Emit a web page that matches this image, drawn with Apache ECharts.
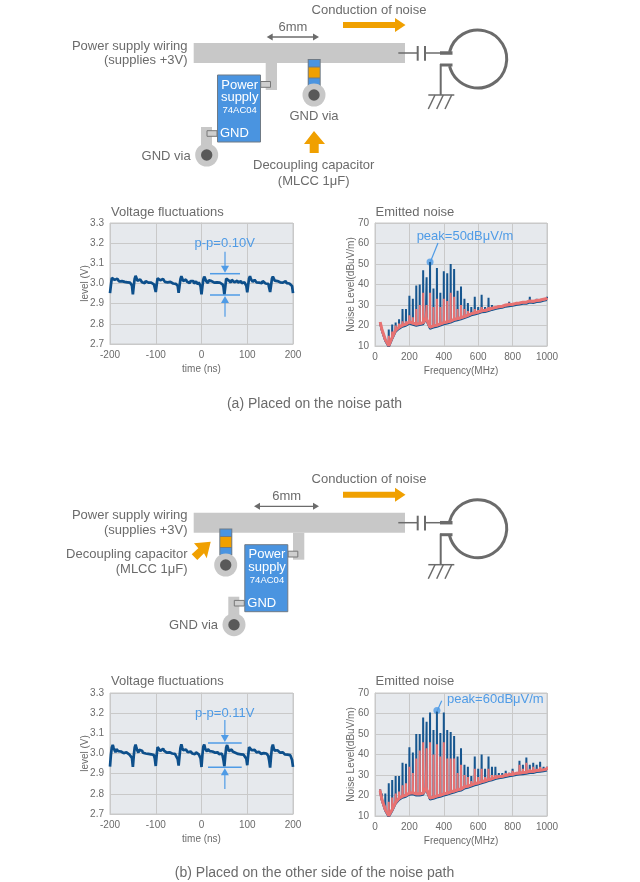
<!DOCTYPE html>
<html>
<head>
<meta charset="utf-8">
<title>Decoupling capacitor placement</title>
<style>
html, body { margin: 0; padding: 0; background: #fff; }
#chart { width: 640px; height: 882px; }
</style>
<script src="https://cdn.jsdelivr.net/npm/echarts@6/dist/echarts.min.js"></script>
</head>
<body>
<div id="chart"></div>
<script>
// voltage waveform, one sample every 2 ns from -200 to 200
var timeTicks = [-200, -100, 0, 100, 200];
var levelTicks = [2.7, 2.8, 2.9, 3.0, 3.1, 3.2, 3.3];
var levelA = [
  2.952,2.992,3.028,3.036,3.030,3.018,3.012,3.020,3.024,3.016,3.010,3.014,3.006,3.012,3.004,3.012,3.008,3.002,3.012,3.006,3.000,3.010,3.004,2.998,2.990,
  2.946,2.990,3.024,3.038,3.026,3.014,3.008,3.018,3.020,3.012,3.006,3.012,3.008,3.002,3.012,3.006,3.012,3.004,3.000,3.010,3.004,2.998,3.004,2.996,2.988,
  2.958,2.994,3.026,3.034,3.024,3.016,3.010,3.016,3.022,3.014,3.008,3.004,3.012,3.006,3.012,3.002,3.008,3.012,3.004,3.000,3.008,3.002,2.998,3.000,2.988,
  2.954,2.988,3.022,3.036,3.028,3.012,3.006,3.014,3.020,3.010,3.012,3.006,3.002,3.012,3.008,3.004,3.012,3.000,3.006,3.010,3.002,2.996,3.006,2.996,2.986,
  2.946,2.986,3.020,3.034,3.024,3.012,3.006,3.002,3.016,3.014,3.008,3.012,3.006,3.012,3.004,3.008,3.012,3.006,3.002,3.010,3.004,3.000,3.002,2.996,2.984,
  2.945,2.984,3.024,3.032,3.026,3.014,3.010,3.004,3.018,3.016,3.010,3.006,3.012,3.008,3.014,3.004,3.010,3.006,3.012,3.002,3.008,3.000,3.006,2.998,2.988,
  2.956,2.992,3.026,3.036,3.022,3.016,3.008,3.014,3.018,3.012,3.006,3.010,3.014,3.004,3.012,3.008,3.002,3.012,3.006,3.012,3.000,3.006,2.998,2.998,2.990,
  2.958,2.990,3.024,3.034,3.028,3.014,3.010,3.016,3.012,3.008,3.014,3.006,3.012,3.012,3.004,3.010,3.006,3.012,3.002,3.010,3.006,3.000,3.006,2.998,2.988,
  2.952
];
var levelB = [
  2.935,2.994,3.030,3.042,3.028,3.016,3.006,3.022,3.020,3.012,3.016,3.006,3.010,3.004,3.008,3.002,3.006,3.000,3.006,2.998,3.002,2.996,3.002,2.994,2.978,
  2.934,2.990,3.030,3.044,3.026,3.014,3.004,3.018,3.022,3.010,3.014,3.004,3.010,3.006,3.000,3.008,3.004,2.998,3.006,3.000,2.996,3.002,2.996,2.992,2.974,
  2.938,2.992,3.032,3.040,3.030,3.012,3.006,3.020,3.024,3.014,3.008,3.012,3.004,3.008,3.002,3.006,2.998,3.004,3.000,2.996,3.004,2.998,2.994,2.990,2.972,
  2.940,2.988,3.028,3.046,3.028,3.016,3.008,3.016,3.020,3.012,3.006,3.014,3.002,3.010,3.006,3.000,3.006,3.002,2.996,3.006,2.998,3.000,2.996,2.992,2.976,
  2.933,2.994,3.034,3.044,3.024,3.018,3.010,3.022,3.018,3.012,3.016,3.004,3.010,3.002,3.008,3.004,2.998,3.002,3.006,2.996,3.002,2.994,3.000,2.990,2.968,
  2.936,2.988,3.030,3.042,3.026,3.012,3.006,3.018,3.020,3.010,3.006,3.012,3.004,3.008,3.002,2.998,3.006,3.000,2.996,3.004,2.998,2.994,2.998,2.988,2.974,
  2.942,2.990,3.032,3.040,3.028,3.016,3.008,3.020,3.018,3.014,3.006,3.010,3.002,3.008,3.004,2.998,3.004,2.996,3.002,2.998,2.994,3.000,2.994,2.988,2.964,
  2.930,2.986,3.030,3.044,3.024,3.014,3.006,3.022,3.016,3.010,3.012,3.004,3.008,3.002,3.006,3.000,2.996,3.002,2.998,2.994,3.000,2.996,2.992,2.986,2.968,
  2.934
];

// spectrum: harmonics every 20 MHz, 296 is the spot just before the step in the floor
var freqTicks = [0, 200, 400, 600, 800, 1000];
var noiseTicks = [10, 20, 30, 40, 50, 60, 70];
var harmonicsMHz = [30,40,60,80,100,120,140,160,180,200,220,240,260,280,296,300,320,340,360,380,400,420,440,460,480,500,520,540,560,580,600,620,640,660,680,700,720,740,760,780,800,820,840,860,880,900,920,940,960,980,1000];
var floorA = [21.5,18,13,10,14,17.5,19,20,20.5,21.5,21,20.5,20.8,21.2,23.5,23,19,19.6,20,20.6,21.2,21.6,22,22.8,23.2,23.6,24.2,24.8,25.6,26,26.4,27,27.2,27.6,28.2,28.6,29,29.2,29.8,30,30.2,30.6,30.8,31.2,31.2,31.8,31.6,32,32.2,32.6,33];
var peakBlueA = [21.5,18,13,18,20.5,21.5,23,28,28,34.5,33,39.5,40,47,23.5,43.5,51,38,48,36,46.5,45.5,50,47.5,37,39,33,31,29,34,29,35,29,33.5,30,29.5,30,30,30.5,31.5,31,31.5,31.5,32,32,34,32.5,33,33,33,34];
var peakPinkA = [22,18.5,13.5,15,17,20,21,22,22,25,24,28,30,36,24,30,36,29,33,29,33,32,36,34,28,30,28,27,26.5,28,27.5,29,28,29,29,29,30,30,30,31,31,31.5,31.5,32,32,32.5,32.5,32.5,33,33,33.5];
var floorB = [22,18,13,10,13,16.5,18.5,19.5,20,21,21.2,20.6,20.6,21,23.5,23,18.6,19,19.6,20,20.6,21,21.6,22,22.6,23,24,24.4,25,25.6,26,26.6,27,27.6,28,28.6,29,29.2,29.6,30,30.2,30.6,30.8,31,31.2,31.6,31.6,32,32.2,32.4,32.8];
var peakBlueB = [23,21,21,26,27.5,29.5,29.5,36,35.5,43.5,41,50,50,58,23.5,56,60.5,52,61,50.5,60.5,52,51,49,39,43,35,34,29.5,39,33,40,33,39,34,34,31,31,32,31,33,31.5,37,35,38.5,35,36,35,36.5,34,34];
var peakPinkB = [23,18.5,15,17,19,21,22,25,26,34,31,38,42,46,24,43,46,40,45,39,46,38,38,38,31,35,30,29,27,33,29,33,29,33,30,30,30,30,31,31,32,31,35,33,36,33,34,33,34,33,34];
var peakMarkA = [[320, 51]];
var peakMarkB = [[360, 61.5]];

var font = '"Liberation Sans", Arial, sans-serif';
var gray = '#6b6b6b';
var lightBlue = '#4f9be6';
var orange = '#f0a000';
var wire = '#c8c8c8';

function timeSeries(values) {
  return values.map(function (v, i) { return [-200 + i * 2, v]; });
}

function spikes(freqs, floor, peak) {
  var pts = [];
  freqs.forEach(function (f, i) {
    pts.push([f - 1, floor[i]]);
    pts.push([f, peak[i]]);
    pts.push([f + 1, floor[i]]);
  });
  return pts;
}

function floorLine(freqs, floor, offset) {
  return freqs.map(function (f, i) { return [f, floor[i] + offset]; });
}

function grid(left, top, right, bottom) {
  return {
    left: left, top: top, width: right - left, height: bottom - top,
    show: true, backgroundColor: '#e6e9ed', borderColor: '#c9c9c9', borderWidth: 1
  };
}

function axis(idx, name, min, max, interval, gap, fmt) {
  return {
    gridIndex: idx, type: 'value', min: min, max: max, interval: interval,
    name: name, nameLocation: 'middle', nameGap: gap, nameMoveOverlap: false,
    nameTextStyle: { color: gray, fontSize: 10, fontFamily: font },
    axisLine: { show: true, lineStyle: { color: '#c9c9c9', width: 1 } },
    axisTick: { show: false },
    axisLabel: { color: gray, fontSize: 10, fontFamily: font, margin: 6, formatter: fmt || String, hideOverlap: false, showMinLabel: true, showMaxLabel: true },
    splitLine: { show: true, lineStyle: { color: '#c9c9c9', width: 1 } }
  };
}

function t(x, y, s, align, size, color) {
  return {
    type: 'text', silent: true, z: 10,
    style: { x: x, y: y, text: s, align: align || 'center', verticalAlign: 'middle', fill: color || gray, fontSize: size || 13, fontFamily: font }
  };
}
function rect(x1, y1, x2, y2, fill, stroke, lw) {
  return { type: 'rect', silent: true, z: 10, shape: { x: x1, y: y1, width: x2 - x1, height: y2 - y1 }, style: { fill: fill, stroke: stroke || null, lineWidth: lw || 0 } };
}
function line(x1, y1, x2, y2, color, lw) {
  return { type: 'line', silent: true, z: 10, shape: { x1: x1, y1: y1, x2: x2, y2: y2 }, style: { stroke: color || gray, lineWidth: lw || 1.5 } };
}
function poly(pts, fill) {
  return { type: 'polygon', silent: true, z: 10, shape: { points: pts }, style: { fill: fill } };
}
function circle(x, y, r, fill) {
  return { type: 'circle', silent: true, z: 10, shape: { cx: x, cy: y, r: r }, style: { fill: fill } };
}

function via(x, y) {
  return [circle(x, y, 11.5, wire), circle(x, y, 5.7, '#595959')];
}

function capacitor(x, y) {
  return [
    rect(x, y, x + 13, y + 27, '#6f7a85'),
    rect(x + 1, y + 1, x + 12, y + 7.5, '#4a94e0'),
    rect(x + 1, y + 8.5, x + 12, y + 18.5, orange),
    rect(x + 1, y + 19.5, x + 12, y + 26, '#4a94e0')
  ];
}

// everything in panel (b) sits the same way, only the ic and the capacitor move
function diagram(dy, icDx) {
  var els = [];
  els.push(t(369, 10 + dy, 'Conduction of noise'));
  els.push(poly([[343, 22 + dy], [395, 22 + dy], [395, 18 + dy], [405.5, 25 + dy], [395, 32 + dy], [395, 28 + dy], [343, 28 + dy]], orange));
  els.push(t(187.5, 46 + dy, 'Power supply wiring', 'right'));
  els.push(t(187.5, 60.7 + dy, '(supplies +3V)', 'right'));
  els.push(rect(193.7, 43 + dy, 405, 63 + dy, wire));
  // stub and ic
  els.push(rect(265.7 + icDx, 63 + dy, 277 + icDx, 90 + dy, wire));
  els.push(rect(201 + icDx, 127 + dy, 212 + icDx, 152 + dy, wire));
  els.push(rect(207 + icDx, 130.7 + dy, 217 + icDx, 136.3 + dy, '#cfcfcf', '#777', 1));
  els.push(rect(260.7 + icDx, 81.5 + dy, 270.5 + icDx, 87.3 + dy, '#cfcfcf', '#777', 1));
  els.push(rect(217.5 + icDx, 75 + dy, 260.5 + icDx, 142 + dy, '#4a94e0', '#6f7a85', 1));
  els.push(t(239.7 + icDx, 85 + dy, 'Power', 'center', 13, '#fff'));
  els.push(t(239.7 + icDx, 97.5 + dy, 'supply', 'center', 13, '#fff'));
  els.push(t(239.7 + icDx, 110.7 + dy, '74AC04', 'center', 9.5, '#fff'));
  els.push(t(220 + icDx, 133.5 + dy, 'GND', 'left', 13, '#fff'));
  els = els.concat(via(206.7 + icDx, 155 + dy));
  els.push(t(190.7 + icDx, 156 + dy, 'GND via', 'right'));
  // loop antenna
  els.push(line(398.3, 53 + dy, 417.7, 53 + dy));
  els.push(line(417.7, 46 + dy, 417.7, 60.7 + dy, gray, 2));
  els.push(line(425, 46 + dy, 425, 60.7 + dy, gray, 2));
  els.push(line(425, 53 + dy, 440, 53 + dy));
  els.push(line(440, 53 + dy, 452.5, 53 + dy, gray, 3.5));
  els.push(line(440, 65 + dy, 452.5, 65 + dy, gray, 3));
  els.push(line(440.7, 64 + dy, 440.7, 95 + dy, gray, 2));
  els.push({ type: 'arc', silent: true, z: 10, shape: { cx: 477.7, cy: 59 + dy, r: 29, startAngle: Math.PI + 0.245, endAngle: 3 * Math.PI - 0.245, clockwise: true }, style: { stroke: gray, lineWidth: 3, fill: null } });
  els.push(line(428.3, 95 + dy, 454.3, 95 + dy));
  els.push(line(435, 95 + dy, 428.3, 109 + dy));
  els.push(line(443.3, 95 + dy, 436.7, 109 + dy));
  els.push(line(451.7, 95 + dy, 445, 109 + dy));
  return els;
}

function sizeArrow(x1, x2, y) {
  return [
    line(x1 + 3, y, x2 - 3, y, gray, 1.3),
    poly([[x1, y], [x1 + 6, y - 3.5], [x1 + 6, y + 3.5]], gray),
    poly([[x2, y], [x2 - 6, y - 3.5], [x2 - 6, y + 3.5]], gray)
  ];
}

function ppMark(x1, x2, y1, y2, from1, from2) {
  var mid = (x1 + x2) / 2;
  return [
    line(x1, y1, x2, y1, lightBlue, 1.5),
    line(x1, y2, x2, y2, lightBlue, 1.5),
    line(mid, from1, mid, y1 - 5, lightBlue, 1.2),
    line(mid, from2, mid, y2 + 5, lightBlue, 1.2),
    poly([[mid, y1 - 1], [mid - 4, y1 - 8], [mid + 4, y1 - 8]], lightBlue),
    poly([[mid, y2 + 1], [mid - 4, y2 + 8], [mid + 4, y2 + 8]], lightBlue)
  ];
}

var graphics = [];
graphics = graphics.concat(diagram(0, 0));
graphics = graphics.concat(capacitor(307.7, 59));
graphics = graphics.concat(via(314, 95));
graphics = graphics.concat(sizeArrow(266.7, 319, 37));
graphics.push(t(293, 27, '6mm'));
graphics.push(t(314, 116.7, 'GND via'));
graphics.push(poly([[314, 131], [325, 144], [318.7, 144], [318.7, 153], [309.7, 153], [309.7, 144], [304, 144]], orange));
graphics.push(t(313.7, 165.7, 'Decoupling capacitor'));
graphics.push(t(313.7, 181, '(MLCC 1μF)'));
graphics.push(t(111, 212, 'Voltage fluctuations', 'left'));
graphics.push(t(375.5, 212, 'Emitted noise', 'left'));
graphics.push(t(224.7, 243.3, 'p-p=0.10V', 'center', 13, lightBlue));
graphics = graphics.concat(ppMark(210, 240, 273.7, 295, 251.7, 316.7));
graphics.push(line(430.3, 262, 438, 243, lightBlue, 1.2));
graphics.push(t(465, 236, 'peak=50dBμV/m', 'center', 13, lightBlue));
graphics.push(t(314.5, 404, '(a) Placed on the noise path', 'center', 14));

graphics = graphics.concat(diagram(469.7, 27.3));
graphics = graphics.concat(capacitor(219.3, 528.5));
graphics = graphics.concat(via(225.7, 565));
graphics = graphics.concat(sizeArrow(254, 319, 506.3));
graphics.push(t(286.7, 496.7, '6mm'));
graphics.push(poly([[210.7, 541.7], [194, 543.3], [198.3, 548.3], [191.7, 554.3], [197.3, 560], [204, 553.3], [206.7, 558.3]], orange));
graphics.push(t(187.5, 554, 'Decoupling capacitor', 'right'));
graphics.push(t(187.5, 569.3, '(MLCC 1μF)', 'right'));
graphics.push(t(111, 681.7, 'Voltage fluctuations', 'left'));
graphics.push(t(375.5, 681.7, 'Emitted noise', 'left'));
graphics.push(t(224.7, 713, 'p-p=0.11V', 'center', 13, lightBlue));
graphics = graphics.concat(ppMark(208, 241.7, 743, 767.3, 720, 789));
graphics.push(line(437, 711.3, 441.7, 700.7, lightBlue, 1.2));
graphics.push(t(495.3, 699.3, 'peak=60dBμV/m', 'center', 13, lightBlue));
graphics.push(t(314.5, 873, '(b) Placed on the other side of the noise path', 'center', 14));

function fixed1(v) { return v.toFixed(1); }

var waveBlue = '#0d4f8b';
var blue = '#17568f';
var pink = '#e87272';

function lineSeries(idx, data, color, width) {
  return { type: 'line', xAxisIndex: idx, yAxisIndex: idx, data: data, showSymbol: false, silent: true, lineStyle: { color: color, width: width } };
}

var myChart = echarts.init(document.getElementById('chart'));
myChart.setOption({
  animation: false,
  backgroundColor: '#fff',
  grid: [
    grid(110, 223, 293, 344),
    grid(375, 223, 547, 346),
    grid(110, 693, 293, 814),
    grid(375, 693, 547, 816)
  ],
  xAxis: [
    axis(0, 'time (ns)', timeTicks[0], timeTicks[4], 100, 20),
    axis(1, 'Frequency(MHz)', freqTicks[0], freqTicks[5], 200, 20),
    axis(2, 'time (ns)', timeTicks[0], timeTicks[4], 100, 20),
    axis(3, 'Frequency(MHz)', freqTicks[0], freqTicks[5], 200, 20)
  ],
  yAxis: [
    axis(0, 'level (V)', levelTicks[0], levelTicks[6], 0.1, 20, fixed1),
    axis(1, 'Noise Level(dBuV/m)', noiseTicks[0], noiseTicks[6], 10, 19),
    axis(2, 'level (V)', levelTicks[0], levelTicks[6], 0.1, 20, fixed1),
    axis(3, 'Noise Level(dBuV/m)', noiseTicks[0], noiseTicks[6], 10, 19)
  ],
  series: [
    lineSeries(0, timeSeries(levelA), waveBlue, 2.7),
    lineSeries(2, timeSeries(levelB), waveBlue, 2.7),
    lineSeries(1, spikes(harmonicsMHz, floorA, peakBlueA), blue, 2),
    lineSeries(1, floorLine(harmonicsMHz, floorA, -0.6), blue, 2),
    lineSeries(1, spikes(harmonicsMHz, floorA, peakPinkA), pink, 2),
    lineSeries(1, floorLine(harmonicsMHz, floorA, 0.2), pink, 3),
    lineSeries(3, spikes(harmonicsMHz, floorB, peakBlueB), blue, 2),
    lineSeries(3, floorLine(harmonicsMHz, floorB, -0.6), blue, 2),
    lineSeries(3, spikes(harmonicsMHz, floorB, peakPinkB), pink, 2),
    lineSeries(3, floorLine(harmonicsMHz, floorB, 0.2), pink, 3),
    { type: 'scatter', xAxisIndex: 1, yAxisIndex: 1, data: peakMarkA, symbolSize: 7, silent: true, itemStyle: { color: lightBlue } },
    { type: 'scatter', xAxisIndex: 3, yAxisIndex: 3, data: peakMarkB, symbolSize: 7, silent: true, itemStyle: { color: lightBlue } }
  ],
  graphic: graphics
});
</script>
</body>
</html>
